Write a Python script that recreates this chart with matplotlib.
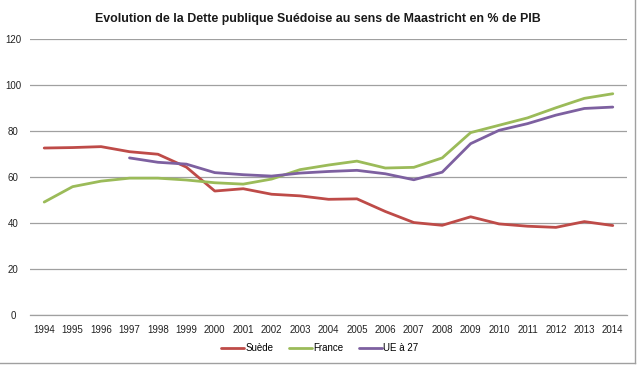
import matplotlib
matplotlib.use("Agg")
import matplotlib.pyplot as plt
from matplotlib.lines import Line2D

plt.rcParams['font.family'] = ['Liberation Sans', 'DejaVu Sans']

years = [str(y) for y in range(1994, 2015)]
suede = [72.6, 72.8, 73.2, 71.0, 69.9, 64.3, 53.9, 54.9, 52.5, 51.8, 50.3,
         50.5, 45.0, 40.2, 39.0, 42.7, 39.6, 38.6, 38.1, 40.6, 38.9]
france = [49.1, 55.8, 58.2, 59.5, 59.5, 58.7, 57.5, 56.9, 59.1, 63.2, 65.2,
          66.9, 63.9, 64.2, 68.3, 79.3, 82.5, 85.7, 90.1, 94.2, 96.2]
ue_years = years[3:]
ue27 = [68.3, 66.4, 65.6, 61.9, 61.0, 60.4, 61.7, 62.4, 62.9, 61.4, 58.8,
        62.1, 74.5, 80.3, 83.2, 86.9, 89.8, 90.4]
yticks = [0, 20, 40, 60, 80, 100, 120]

title = "Evolution de la Dette publique Suédoise au sens de Maastricht en % de PIB"

fig = plt.figure(figsize=(6.4, 3.65), dpi=100)
ax = fig.add_axes([30/640, 50/365, 597/640, 276/365])

x = list(range(len(years)))
ax.plot(x, suede, color="#BE4B48", lw=2, label="Suède", solid_capstyle="round")
ax.plot(x, france, color="#9BBB59", lw=2, label="France", solid_capstyle="round")
ax.plot(x[3:], ue27, color="#7D60A0", lw=2, label="UE à 27", solid_capstyle="round")

ax.set_xlim(-0.5, len(years) - 0.5)
ax.set_ylim(0, 120)
ax.set_yticks(yticks)
ax.set_xticks(x)
ax.set_xticklabels(years)
ax.grid(axis="y", color="#A0A0A0", lw=0.9)
ax.axhline(0, color="#A0A0A0", lw=0.9, clip_on=False, zorder=0.5)
ax.set_axisbelow(True)
for s in ax.spines.values():
    s.set_visible(False)
ax.tick_params(axis="both", length=0, labelsize=7, colors="#222222")
ax.tick_params(axis="y", pad=12)
ax.tick_params(axis="x", pad=7)
for lbl in ax.get_yticklabels():
    lbl.set_horizontalalignment("center")

fig.text(0.496, 0.947, title, ha="center", va="center", fontsize=8.9,
         fontweight="bold", color="#1a1a1a")

ax.legend(loc="center", bbox_to_anchor=(0.485, -0.12), ncol=3, frameon=False,
          fontsize=7, handlelength=2.4, handletextpad=0.1, columnspacing=1.6,
          borderaxespad=0)

fig.add_artist(Line2D([635/640, 635/640], [0.005, 1], transform=fig.transFigure,
                      color="#A0A0A0", lw=1))
fig.add_artist(Line2D([0, 635/640], [2.5/365, 2.5/365], transform=fig.transFigure,
                      color="#A0A0A0", lw=1))

fig.savefig("out.png", dpi=100)
